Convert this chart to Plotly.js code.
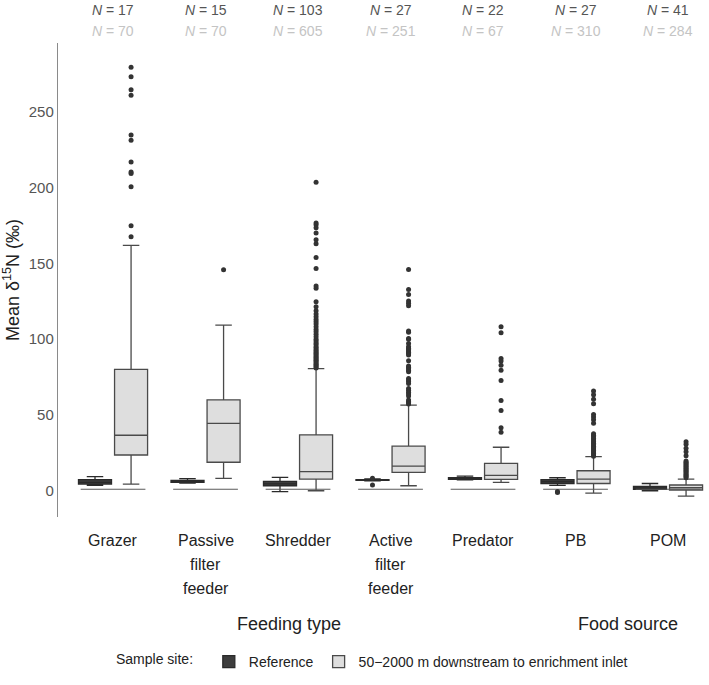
<!DOCTYPE html>
<html>
<head>
<meta charset="utf-8">
<script src="https://cdn.plot.ly/plotly-3.0.1.min.js"></script>
<style>html,body{margin:0;padding:0;background:#fff;}#chart{width:709px;height:685px;}</style>
</head>
<body>
<div id="chart"></div>
<script>
// ---- data ----
const categories = ["Grazer", "Passive<br>filter<br>feeder", "Shredder", "Active<br>filter<br>feeder", "Predator", "PB", "POM"];
const nReference = [17, 15, 103, 27, 22, 27, 41];
const nEnriched = [70, 70, 605, 251, 67, 310, 284];

const refLower  = [3.5, 5.0, -0.5, 6.5, 7.2, 3.5, 0.0];
const refQ1     = [4.4, 5.6, 3.3, 6.8, 7.5, 4.8, 0.9];
const refMedian = [5.5, 6.2, 4.5, 7.0, 8.1, 6.0, 1.8];
const refQ3     = [7.3, 6.8, 6.2, 7.3, 8.7, 7.3, 2.8];
const refUpper  = [9.3, 8.0, 8.8, 7.8, 9.7, 8.6, 4.8];
const refOutliers = [[], [], [], [8.3, 3.8], [], [-0.5, -1.2], []];

const enrLower  = [4.4, 8.2, 0.0, 3.3, 5.5, -1.5, -3.5];
const enrQ1     = [23.6, 18.8, 7.7, 12.1, 7.5, 4.8, 0.5];
const enrMedian = [36.6, 44.4, 12.6, 16.3, 10.2, 7.7, 2.0];
const enrQ3     = [80.0, 60.0, 36.9, 29.4, 18.1, 13.2, 3.8];
const enrUpper  = [161.8, 109.3, 80.5, 56.5, 28.7, 22.5, 7.7];
const enrOutliers = [
  [279.3, 273.1, 264.5, 260.9, 234.6, 231.1, 216.8, 210.2, 209.2, 200.5, 174.8, 167.5],
  [145.7],
  [203.5, 176.6, 175.5, 173.5, 170.0, 165.6, 162.9, 153.9, 146.6, 135.0, 133.6, 124.7, 121.4, 118.7,
   116.5, 114.8, 113.0, 111.4, 109.9, 108.1, 106.4, 104.8, 103.3, 101.5, 100.0, 98.7, 97.5, 96.4,
   95.0, 94.1, 93.0, 92.1, 91.2, 90.3, 89.5, 88.6, 87.7, 86.9, 86.0, 85.2, 84.3, 83.5, 82.6, 81.8, 81.0],
  [146.0, 132.8, 129.5, 125.1, 123.6, 122.0, 105.3, 104.6, 100.5, 99.9, 97.2, 95.0, 94.0, 93.1, 92.2,
   91.3, 90.4, 89.5, 85.8, 82.3, 81.4, 80.4, 79.4, 78.5, 74.0, 73.0, 72.0, 70.8, 67.5, 66.3, 65.0,
   63.8, 62.5, 59.8, 58.9, 58.0, 57.2],
  [108.2, 104.2, 87.2, 85.6, 82.8, 79.5, 72.8, 59.6, 53.0, 41.5, 38.6],
  [65.8, 63.3, 60.3, 57.4, 50.3, 48.6, 46.8, 44.6, 37.6, 36.6, 35.6, 34.5, 33.4, 32.3, 31.4, 30.3,
   29.4, 28.4, 27.5, 26.5, 25.6, 24.6, 23.6, 22.7],
  [32.3, 30.6, 28.0, 25.7, 23.1, 19.6, 18.8, 18.0, 17.2, 16.4, 15.6, 14.8, 14.0, 13.2, 12.5, 11.7,
   10.9, 10.1, 9.4, 8.6]
];
const baselineValue = 1;
const yTicks = [0, 50, 100, 150, 200, 250];
const groupNames = ["Feeding type", "Food source"];
const seriesNames = ["Reference", "50\u22122000 m downstream to enrichment inlet"];

// ---- styling / geometry (layout only) ----
const OFF = 0.195, BW = 0.357, HALF = 0.35;
const PLOT_H = 474;
const groupLabelX = [0.355, 0.876];           // paper positions of facet titles
const catLabelTopPx = 23, catLabelLinePx = 24; // below plot bottom
const idx = categories.map((_, i) => i);

function outlierTrace(list, shift, color) {
  const xs = [], ys = [];
  list.forEach((vals, i) => vals.forEach(v => { xs.push(i + shift); ys.push(v); }));
  return {type: 'scatter', mode: 'markers', x: xs, y: ys, showlegend: false, hoverinfo: 'y',
          marker: {color: color, size: 5, line: {width: 0}}};
}
const baseX = [], baseY = [];
idx.forEach(i => { baseX.push(i - HALF, i + HALF, null); baseY.push(baselineValue, baselineValue, null); });

const traces = [
  {type: 'scatter', mode: 'lines', x: baseX, y: baseY, showlegend: false, hoverinfo: 'skip',
   line: {color: '#5a5a5a', width: 1.2}},
  {type: 'box', name: seriesNames[0], x: idx.map(i => i - OFF), width: BW,
   q1: refQ1, median: refMedian, q3: refQ3, lowerfence: refLower, upperfence: refUpper,
   boxpoints: false, fillcolor: '#3d3d3d', line: {color: '#2a2a2a', width: 1.3}},
  {type: 'box', name: seriesNames[1], x: idx.map(i => i + OFF), width: BW,
   q1: enrQ1, median: enrMedian, q3: enrQ3, lowerfence: enrLower, upperfence: enrUpper,
   boxpoints: false, fillcolor: '#dedede', line: {color: '#4a4a4a', width: 1.3}},
  outlierTrace(refOutliers, -OFF, '#333333'),
  outlierTrace(enrOutliers, OFF, '#333333')
];

const annotations = [];
idx.forEach(i => {
  annotations.push({xref: 'x', yref: 'paper', x: i, y: 1.0696, xanchor: 'center', yanchor: 'middle', showarrow: false,
    text: '<i>N</i> = ' + nReference[i], font: {size: 14, color: '#555555'}});
  annotations.push({xref: 'x', yref: 'paper', x: i, y: 1.025, xanchor: 'center', yanchor: 'middle', showarrow: false,
    text: '<i>N</i> = ' + nEnriched[i], font: {size: 14, color: '#c4c4c4'}});
  categories[i].split('<br>').forEach((line, k) => {
    annotations.push({xref: 'x', yref: 'paper', x: i, xanchor: 'center',
      y: -(catLabelTopPx + k * catLabelLinePx) / PLOT_H, yanchor: 'middle', showarrow: false,
      text: line, font: {size: 16, color: '#222222'}});
  });
});
groupNames.forEach((g, k) => {
  annotations.push({xref: 'paper', yref: 'paper', x: groupLabelX[k], y: -0.226, xanchor: 'center',
    yanchor: 'middle', showarrow: false, text: g, font: {size: 18, color: '#222222'}});
});

const layout = {
  width: 709, height: 685,
  margin: {l: 58, r: 0, t: 43, b: 168},
  paper_bgcolor: '#ffffff', plot_bgcolor: '#ffffff',
  font: {family: 'Liberation Sans, Arial, sans-serif', color: '#222222'},
  boxmode: 'overlay',
  showlegend: true,
  xaxis: {range: [-0.595, 6.443], showline: false, showgrid: false, zeroline: false,
          showticklabels: false, ticks: ''},
  yaxis: {range: [-17.3, 295.3], showline: true, linecolor: '#8a8a8a', linewidth: 1.2,
          showgrid: false, zeroline: false, tickmode: 'array', tickvals: yTicks, ticks: '',
          tickfont: {size: 15, color: '#555555'},
          title: {text: 'Mean \u03b4<sup>15</sup>N (\u2030)', font: {size: 18, color: '#222222'}, standoff: 16}},
  legend: {orientation: 'h', x: 0.086, xanchor: 'left', y: -0.306, yanchor: 'middle',
           title: {text: 'Sample site:  ', side: 'left', font: {size: 14, color: '#222222'}},
           font: {size: 14, color: '#222222'}, bgcolor: 'rgba(0,0,0,0)'},
  annotations: annotations
};

Plotly.newPlot('chart', traces, layout, {displayModeBar: false, staticPlot: true});
</script>
</body>
</html>
